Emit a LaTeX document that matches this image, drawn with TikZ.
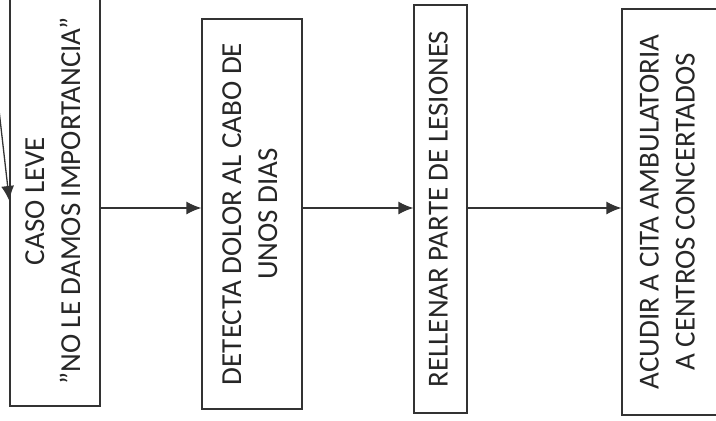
\documentclass[tikz,border=0pt]{standalone}
\usepackage{fontspec}
\setmainfont{Carlito}
\usetikzlibrary{positioning, arrows.meta}
\newcommand{\vtxt}[1]{\rotatebox{90}{\begin{tabular}{@{}c@{}}#1\end{tabular}}}

\begin{document}
\begin{tikzpicture}[x=1pt, y=-1pt, -{Latex[length=15pt, width=13pt]},
      inner sep=0pt, line width=1.3pt, draw=black!80, text=black!85,
      font=\fontsize{29}{36}\selectfont, paso/.style={rectangle, draw}]
      \useasboundingbox (0,0) rectangle (716,421);
      % caso, detecta, rellenar, acudir;
      \node[paso, minimum width=90pt, minimum height=410pt](p_1) at(55,201) {\vtxt{CASO LEVE\\\symbol{"22}NO LE DAMOS IMPORTANCIA\symbol{"22}}};
      \node[paso, minimum width=100pt, minimum height=390pt](p_2) at(252,214) {\vtxt{DETECTA DOLOR AL CABO DE\\UNOS DIAS}};
      \node[paso, minimum width=53pt, minimum height=408pt](p_3) at(440.5,209) {\vtxt{RELLENAR PARTE DE LESIONES}};
      \node[paso, minimum width=95pt, minimum height=406pt](p_4) at(669.5,212) {\vtxt{ACUDIR A CITA AMBULATORIA\\A CENTROS CONCERTADOS}};
      \coordinate (in) at(-1,110);
      \coordinate (fila) at(0,208);
      \path (in) edge (p_1.west);
      \path (p_1.east |- fila) edge (p_2.west |- fila);
      \path (p_2.east |- fila) edge (p_3.west |- fila);
      \path (p_3.east |- fila) edge (p_4.west |- fila);
  \end{tikzpicture}
\end{document}
